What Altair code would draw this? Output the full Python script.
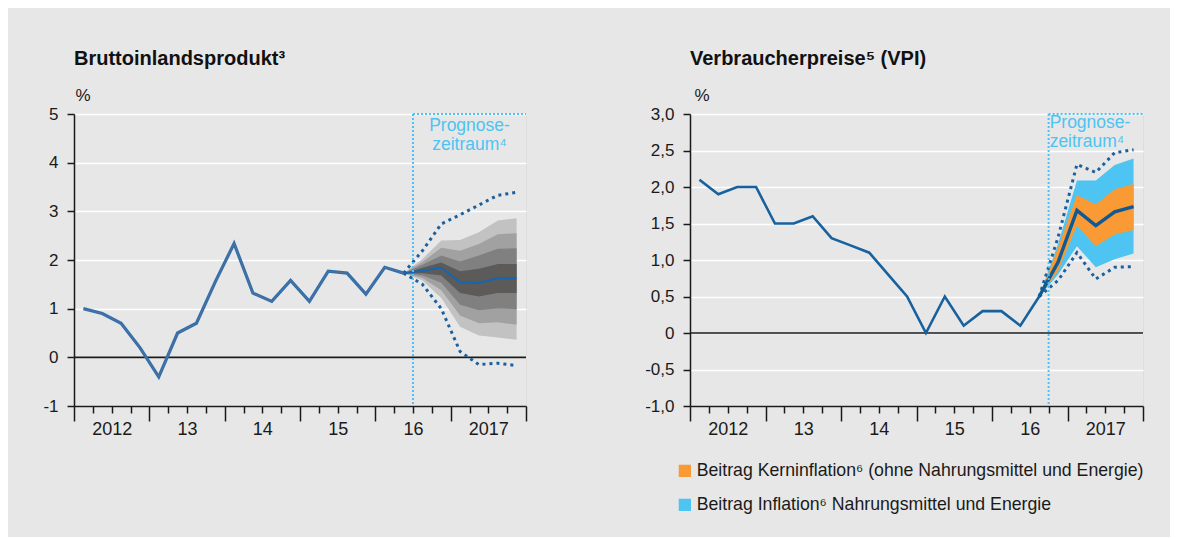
import altair as alt
import pandas as pd

# ---------------- data ----------------
FIRST_YEAR = 2012
YEAR_LABELS = ["2012", "13", "14", "15", "16", "2017"]

# GDP (Bruttoinlandsprodukt), quarterly, 2012Q1 .. 2016Q2
GDP_HIST = [1.0, 0.9, 0.7, 0.2, -0.4, 0.5, 0.7, 1.55, 2.34, 1.32, 1.15, 1.58,
            1.15, 1.77, 1.73, 1.30, 1.85, 1.73]
GDP_FC_Q = ["2016Q2", "2016Q3", "2016Q4", "2017Q1", "2017Q2", "2017Q3", "2017Q4"]
GDP_MED = [1.73, 1.78, 1.84, 1.54, 1.53, 1.63, 1.62]
GDP_B1_LO = [1.73, 1.58, 1.22, 0.63, 0.45, 0.41, 0.36]
GDP_B1_HI = [1.73, 2.02, 2.40, 2.41, 2.57, 2.81, 2.86]
GDP_B2_LO = [1.73, 1.63, 1.38, 0.86, 0.70, 0.72, 0.67]
GDP_B2_HI = [1.73, 1.96, 2.25, 2.19, 2.33, 2.53, 2.55]
GDP_B3_LO = [1.73, 1.68, 1.53, 1.08, 0.97, 1.01, 0.99]
GDP_B3_HI = [1.73, 1.90, 2.09, 1.97, 2.09, 2.23, 2.24]
GDP_B4_LO = [1.73, 1.73, 1.68, 1.32, 1.25, 1.32, 1.32]
GDP_B4_HI = [1.73, 1.84, 1.95, 1.77, 1.82, 1.92, 1.92]
GDP_UPPER = [1.73, 2.19, 2.74, 2.93, 3.13, 3.33, 3.39]
GDP_LOWER = [1.73, 1.50, 1.00, 0.12, -0.15, -0.12, -0.17]
GDP_FC_START = "2016Q3"

# Verbraucherpreise (VPI), quarterly, 2012Q1 .. 2016Q3
VPI_HIST = [2.1, 1.9, 2.0, 2.0, 1.5, 1.5, 1.6, 1.3, 1.2, 1.1, 0.8, 0.5,
            0.0, 0.5, 0.1, 0.3, 0.3, 0.1, 0.5]
VPI_FC_Q = ["2016Q3", "2016Q4", "2017Q1", "2017Q2", "2017Q3", "2017Q4"]
VPI_MED = [0.5, 0.97, 1.68, 1.47, 1.66, 1.73]
VPI_CORE_LO = [0.5, 0.85, 1.47, 1.19, 1.35, 1.41]
VPI_CORE_HI = [0.5, 1.17, 1.89, 1.76, 1.97, 2.04]
VPI_FOOD_LO = [0.5, 0.80, 1.19, 0.90, 1.01, 1.09]
VPI_FOOD_HI = [0.5, 1.22, 2.09, 2.09, 2.30, 2.39]
VPI_UPPER = [0.5, 1.31, 2.31, 2.20, 2.47, 2.51]
VPI_LOWER = [0.5, 0.72, 1.10, 0.74, 0.90, 0.91]
VPI_FC_START = "2016Q4"

TITLE_GDP = "Bruttoinlandsprodukt³"
TITLE_VPI = "Verbraucherpreise⁵ (VPI)"
FORECAST_TEXT = "Prognose-\nzeitraum⁴"
LEGEND_CORE = "Beitrag Kerninflation⁶ (ohne Nahrungsmittel und Energie)"
LEGEND_FOOD = "Beitrag Inflation⁶ Nahrungsmittel und Energie"

# ---------------- helpers ----------------
FONT = "Liberation Sans"
BG = "#e7e7e7"
INK = "#1a1a1a"
FC_BLUE = "#4ec3f2"
N_Q = 24


def q_center(label):
    y, q = int(label[:4]), int(label[-1])
    return (y - FIRST_YEAR) * 4 + q - 0.5


def q_start(label):
    y, q = int(label[:4]), int(label[-1])
    return (y - FIRST_YEAR) * 4 + q - 1


def hist_quarters(n):
    return [f"{FIRST_YEAR + i // 4}Q{i % 4 + 1}" for i in range(n)]


year_expr = "[" + ",".join(f"'{y}'" for y in YEAR_LABELS) + "]"

x_axis = alt.Axis(
    values=list(range(N_Q + 1)),
    tickSize={"condition": {"test": "datum.value % 4 === 0", "value": 15}, "value": 7},
    labelExpr=f"datum.value % 4 === 2 ? {year_expr}[floor(datum.value / 4)] : ''",
    grid=False, title=None, labelFlush=False, labelOverlap=False,
    domainColor=INK, domainWidth=1.5, tickColor=INK, tickWidth=1.5,
    labelFont=FONT, labelFontSize=18, labelColor=INK, labelPadding=7,
)


def X(field="x"):
    return alt.X(f"{field}:Q", scale=alt.Scale(domain=[0, N_Q], nice=False, zero=False), axis=x_axis)


def y_axis(values, expr, title_x):
    return alt.Axis(
        values=values, grid=True, gridColor="white", gridWidth=1.5,
        tickSize=7, tickColor=INK, tickWidth=1.5, domainColor=INK, domainWidth=1.5,
        labelExpr=expr, labelFont=FONT, labelFontSize=17, labelColor=INK, labelPadding=9,
        title="%", titleAngle=0, titleX=title_x, titleY=-14, titleAlign="left",
        titleBaseline="alphabetic", titleFont=FONT, titleFontSize=17,
        titleFontWeight="normal", titleColor=INK,
    )


def make_Y(domain, axis):
    def Y(field="y"):
        return alt.Y(f"{field}:Q", scale=alt.Scale(domain=domain, nice=False, zero=False),
                     axis=axis, stack=None)
    return Y


# ---------------- left panel: GDP ----------------
gdp_axis = y_axis(list(range(-1, 6)), "'' + datum.value", 1)
Yg = make_Y([-1, 5], gdp_axis)

gx = [q_center(q) for q in GDP_FC_Q]
fan_layers = []
for lo, hi, col in [(GDP_B1_LO, GDP_B1_HI, "#c2c2c2"), (GDP_B2_LO, GDP_B2_HI, "#a1a1a1"),
                    (GDP_B3_LO, GDP_B3_HI, "#808080"), (GDP_B4_LO, GDP_B4_HI, "#5d5b5a")]:
    df = pd.DataFrame({"x": gx, "lo": lo, "hi": hi})
    fan_layers.append(alt.Chart(df).mark_area(color=col, opacity=1).encode(x=X(), y=Yg("lo"), y2="hi:Q"))

zero_g = alt.Chart(pd.DataFrame({"y": [0]})).mark_rule(color=INK, strokeWidth=1.6).encode(y=Yg())

df_gb = pd.DataFrame({"x": gx * 2, "y": GDP_UPPER + GDP_LOWER, "s": ["u"] * len(gx) + ["l"] * len(gx)})
bounds_g = alt.Chart(df_gb).mark_line(color="#1b5f9e", strokeWidth=3, strokeDash=[3, 4], strokeCap="butt").encode(
    x=X(), y=Yg(), detail="s:N")

df_gh = pd.DataFrame({"x": [q_center(q) for q in hist_quarters(len(GDP_HIST))], "y": GDP_HIST})
hist_g = alt.Chart(df_gh).mark_line(color="#2c70b0", strokeWidth=3.2).encode(x=X(), y=Yg())
hist_g2 = alt.Chart(df_gh).mark_line(color="#8a6a72", strokeWidth=0.7, opacity=0.8).encode(x=X(), y=Yg())

df_gm = pd.DataFrame({"x": gx, "y": GDP_MED})
med_g = alt.Chart(df_gm).mark_line(color="#1565b0", strokeWidth=2).encode(x=X(), y=Yg())

fs_g = q_start(GDP_FC_START)
vline_g = alt.Chart(pd.DataFrame({"x": [fs_g]})).mark_rule(
    color=FC_BLUE, strokeWidth=2, strokeDash=[2, 2]).encode(x=X())
hline_g = alt.Chart(pd.DataFrame({"x": [fs_g], "x2": [N_Q], "y": [5]})).mark_rule(
    color=FC_BLUE, strokeWidth=2, strokeDash=[2, 2]).encode(x=X(), x2="x2:Q", y=Yg())
text_g = alt.Chart(pd.DataFrame({"x": [(fs_g + N_Q) / 2], "y": [5], "t": [FORECAST_TEXT]})).mark_text(
    align="center", baseline="top", dy=2.5, lineBreak="\n", lineHeight=19, font=FONT, fontSize=17.5,
    color=FC_BLUE).encode(x=X(), y=Yg(), text="t:N")

left = alt.layer(*fan_layers, zero_g, bounds_g, hist_g, hist_g2, med_g, vline_g, hline_g, text_g).properties(
    width=452, height=292,
    title=alt.Title(TITLE_GDP, anchor="start", frame="group", font=FONT, fontSize=20, fontWeight="bold",
                    color="#111111", baseline="alphabetic", offset=1),
)

# ---------------- right panel: VPI ----------------
vpi_axis = y_axis([i / 2 for i in range(-2, 7)],
                  "datum.value == 0 ? '0' : replace(replace(format(datum.value, '.1f'), '.', ','), '\u2212', '-')", 4)
Yv = make_Y([-1, 3], vpi_axis)

vx = [q_center(q) for q in VPI_FC_Q]
color_scale = alt.Scale(domain=[LEGEND_CORE, LEGEND_FOOD], range=["#fa9a35", "#4dc4f2"])
legend = alt.Legend(
    title=None, orient="none", legendX=-14, legendY=348, symbolType="square", symbolSize=150,
    symbolStrokeWidth=0, symbolOpacity=1, labelFont=FONT, labelFontSize=17.7, labelColor=INK,
    labelOffset=3, rowPadding=15, padding=0, labelLimit=600, direction="vertical",
)
df_food = pd.DataFrame({"x": vx, "lo": VPI_FOOD_LO, "hi": VPI_FOOD_HI, "c": LEGEND_FOOD})
df_core = pd.DataFrame({"x": vx, "lo": VPI_CORE_LO, "hi": VPI_CORE_HI, "c": LEGEND_CORE})
food = alt.Chart(df_food).mark_area(opacity=1).encode(
    x=X(), y=Yv("lo"), y2="hi:Q", color=alt.Color("c:N", scale=color_scale, legend=legend))
core = alt.Chart(df_core).mark_area(opacity=1).encode(
    x=X(), y=Yv("lo"), y2="hi:Q", color=alt.Color("c:N", scale=color_scale, legend=legend))

zero_v = alt.Chart(pd.DataFrame({"y": [0]})).mark_rule(color=INK, strokeWidth=1.6).encode(y=Yv())

df_vb = pd.DataFrame({"x": vx * 2, "y": VPI_UPPER + VPI_LOWER, "s": ["u"] * len(vx) + ["l"] * len(vx)})
bounds_v = alt.Chart(df_vb).mark_line(color="#1b5f9e", strokeWidth=3, strokeDash=[3, 4], strokeCap="butt").encode(
    x=X(), y=Yv(), detail="s:N")

df_vh = pd.DataFrame({"x": [q_center(q) for q in hist_quarters(len(VPI_HIST))], "y": VPI_HIST})
hist_v = alt.Chart(df_vh).mark_line(color="#16619e", strokeWidth=2.6).encode(x=X(), y=Yv())
df_vm = pd.DataFrame({"x": vx, "y": VPI_MED})
med_v = alt.Chart(df_vm).mark_line(color="#0f5a95", strokeWidth=3.4).encode(x=X(), y=Yv())

fs_v = q_start(VPI_FC_START)
vline_v = alt.Chart(pd.DataFrame({"x": [fs_v]})).mark_rule(
    color=FC_BLUE, strokeWidth=2, strokeDash=[2, 2]).encode(x=X())
hline_v = alt.Chart(pd.DataFrame({"x": [fs_v], "x2": [N_Q], "y": [3]})).mark_rule(
    color=FC_BLUE, strokeWidth=2, strokeDash=[2, 2]).encode(x=X(), x2="x2:Q", y=Yv())
text_v = alt.Chart(pd.DataFrame({"x": [fs_v], "y": [3], "t": [FORECAST_TEXT]})).mark_text(
    align="left", baseline="top", dx=1, dy=0, lineBreak="\n", lineHeight=18.5, font=FONT, fontSize=17.5,
    color=FC_BLUE).encode(x=X(), y=Yv(), text="t:N")

right = alt.layer(food, core, zero_v, bounds_v, hist_v, med_v, vline_v, hline_v, text_v).properties(
    width=453, height=292,
    title=alt.Title(TITLE_VPI, anchor="start", frame="group", font=FONT, fontSize=20, fontWeight="bold",
                    color="#111111", baseline="alphabetic", offset=1),
)

chart = alt.hconcat(left, right, spacing=164, bounds="flush").resolve_scale(
    x="independent", y="independent", color="independent"
).properties(
    padding={"left": 34, "top": 40, "right": 25, "bottom": 22},
    background=BG,
).configure_view(fill=BG, stroke="white", strokeWidth=1.5).configure(font=FONT)

chart.save("out.html", embed_options={"renderer": "svg", "actions": False})
